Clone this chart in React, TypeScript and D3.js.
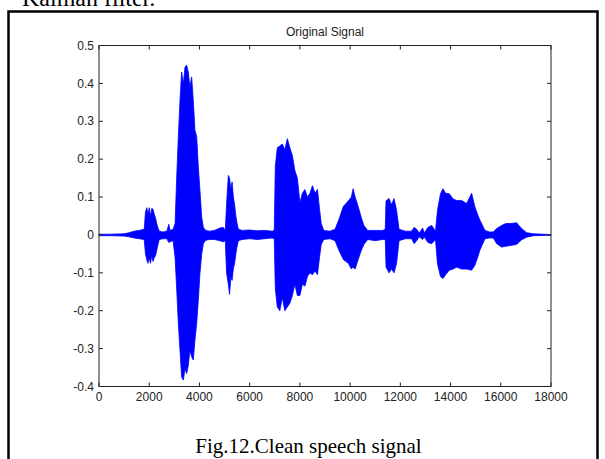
import React from "react";
import * as d3 from "d3";

// Envelope of the speech waveform: sample index, max and min amplitude
const samples = [
  0, 500, 1000, 1200, 1400, 1600, 1800, 1850, 1900, 1950, 2000, 2050, 2100, 2150, 2200, 2250, 2300, 2350, 2400, 2550, 2700, 2780, 2830, 2950,
  3030, 3090, 3160, 3225, 3290, 3360, 3425, 3490, 3555, 3620, 3690, 3755, 3820, 3890, 3955, 4020, 4090, 4155, 4250, 4400, 4600, 4800, 4950,
  5030, 5080, 5150, 5200, 5250, 5300, 5350, 5400, 5450, 5500, 5550, 5700, 6000, 6300, 6600, 6900, 6980,
  7020, 7100, 7200, 7300, 7400, 7500, 7600, 7700, 7800, 7900, 8000, 8100, 8200, 8300, 8400, 8500, 8600, 8700, 8780, 8850, 8950,
  9200, 9400, 9550, 9730, 9930, 10050, 10120, 10200, 10320, 10450, 10550, 10700, 11000, 11300, 11400,
  11430, 11550, 11650, 11750, 11850, 11950, 12200, 12450, 12550, 12650, 12750, 12890, 12950, 13100, 13250, 13400,
  13480, 13600, 13700, 13800, 13950, 14100, 14240, 14440, 14640, 14840, 14970, 15100, 15170, 15370, 15550, 15700,
  15840, 16030, 16200, 16370, 16630, 16830, 17030, 17300, 18000,
];
const upper = [
  0.002, 0.002, 0.003, 0.006, 0.01, 0.012, 0.015, 0.06, 0.072, 0.055, 0.072, 0.05, 0.07, 0.068, 0.055, 0.045, 0.03, 0.018, 0.01, 0.008, 0.01, 0.028, 0.012, 0.015,
  0.03, 0.144, 0.259, 0.355, 0.43, 0.4, 0.443, 0.448, 0.43, 0.39, 0.417, 0.355, 0.276, 0.26, 0.18, 0.118, 0.047, 0.02, 0.012, 0.01, 0.012, 0.018, 0.02,
  0.012, 0.08, 0.157, 0.15, 0.12, 0.14, 0.1, 0.08, 0.05, 0.03, 0.015, 0.012, 0.013, 0.011, 0.012, 0.01, 0.012,
  0.18, 0.23, 0.235, 0.24, 0.225, 0.254, 0.23, 0.21, 0.17, 0.15, 0.085, 0.11, 0.12, 0.1, 0.11, 0.13, 0.11, 0.12, 0.07, 0.03, 0.012,
  0.01, 0.015, 0.04, 0.075, 0.09, 0.1, 0.122, 0.1, 0.075, 0.045, 0.025, 0.012, 0.012, 0.012, 0.015,
  0.09, 0.096, 0.08, 0.096, 0.065, 0.015, 0.01, 0.01, 0.02, 0.015, 0.005, 0.018, 0.005, 0.02, 0.025, 0.01,
  0.065, 0.109, 0.122, 0.11, 0.109, 0.095, 0.091, 0.091, 0.083, 0.11, 0.074, 0.05, 0.039, 0.012, 0.008, 0.008,
  0.017, 0.025, 0.03, 0.03, 0.032, 0.017, 0.006, 0.003, 0.001,
];
const lower = [
  -0.002, -0.002, -0.003, -0.005, -0.008, -0.01, -0.012, -0.05, -0.065, -0.075, -0.06, -0.075, -0.055, -0.07, -0.06, -0.055, -0.04, -0.025, -0.012, -0.01, -0.01, -0.02, -0.018, -0.015,
  -0.06, -0.137, -0.234, -0.304, -0.375, -0.383, -0.353, -0.366, -0.345, -0.304, -0.322, -0.33, -0.278, -0.234, -0.172, -0.102, -0.05, -0.023, -0.014, -0.012, -0.012, -0.015, -0.018,
  -0.015, -0.1, -0.13, -0.157, -0.11, -0.12, -0.09, -0.075, -0.05, -0.03, -0.015, -0.012, -0.01, -0.012, -0.01, -0.008, -0.01,
  -0.14, -0.19, -0.2, -0.165, -0.2, -0.19, -0.18, -0.16, -0.13, -0.16, -0.16, -0.13, -0.135, -0.11, -0.1, -0.105, -0.095, -0.105, -0.06, -0.025, -0.012,
  -0.01, -0.015, -0.04, -0.065, -0.075, -0.09, -0.085, -0.09, -0.065, -0.04, -0.025, -0.012, -0.015, -0.012, -0.012,
  -0.085, -0.1, -0.09, -0.1, -0.075, -0.015, -0.01, -0.01, -0.023, -0.015, -0.005, -0.012, -0.005, -0.02, -0.023, -0.012,
  -0.076, -0.11, -0.115, -0.105, -0.093, -0.09, -0.085, -0.09, -0.09, -0.093, -0.08, -0.055, -0.04, -0.01, -0.008, -0.008,
  -0.023, -0.032, -0.03, -0.028, -0.025, -0.013, -0.006, -0.002, -0.001,
];

const xTicks = [0, 2000, 4000, 6000, 8000, 10000, 12000, 14000, 16000, 18000];
const yTicks = [-0.4, -0.3, -0.2, -0.1, 0, 0.1, 0.2, 0.3, 0.4, 0.5];

const W = 605;
const H = 459;
const left = 99;
const right = 551;
const top = 45.5;
const bottom = 386.5;

export default function App() {
  const x = d3.scaleLinear().domain([0, 18000]).range([left, right]);
  const y = d3.scaleLinear().domain([-0.4, 0.5]).range([bottom, top]);
  const pts = samples.map((s, i) => ({ s, u: upper[i], l: lower[i] }));
  const area = d3
    .area<{ s: number; u: number; l: number }>()
    .x((d) => x(d.s))
    .y0((d) => y(d.l))
    .y1((d) => y(d.u))
    .curve(d3.curveLinear);
  const tl = 4;
  const font = "'Liberation Sans', Arial, sans-serif";
  return (
    <svg
      width={W}
      height={H}
      style={{ position: "absolute", left: 0, top: 0, background: "#fff" }}
    >
      <text x={22} y={6} fontFamily="'Liberation Serif', 'Times New Roman', serif" fontSize={24} fill="#000">
        Kalman filter.
      </text>
      <rect x={8.5} y={11.5} width={589} height={470} fill="none" stroke="#000" strokeWidth={2.5} />
      <text x={(left + right) / 2} y={36} textAnchor="middle" fontFamily={font} fontSize={12} fill="#222">
        Original Signal
      </text>
      <path d={area(pts) || ""} fill="#0000ff" stroke="#0000ff" strokeWidth={0.8} />
      <rect x={left} y={top} width={right - left} height={bottom - top} fill="none" stroke="#222" strokeWidth={1} />
      {xTicks.map((t) => (
        <g key={"x" + t}>
          <line x1={x(t)} x2={x(t)} y1={bottom} y2={bottom - tl} stroke="#222" />
          <line x1={x(t)} x2={x(t)} y1={top} y2={top + tl} stroke="#222" />
          <text x={x(t)} y={401} textAnchor="middle" fontFamily={font} fontSize={12} fill="#222">
            {String(t)}
          </text>
        </g>
      ))}
      {yTicks.map((t) => (
        <g key={"y" + t}>
          <line x1={left} x2={left + tl} y1={y(t)} y2={y(t)} stroke="#222" />
          <line x1={right} x2={right - tl} y1={y(t)} y2={y(t)} stroke="#222" />
          <text x={94} y={y(t)} dy="0.35em" textAnchor="end" fontFamily={font} fontSize={12} fill="#222">
            {String(t)}
          </text>
        </g>
      ))}
      <text x={308.5} y={453} textAnchor="middle" fontFamily="'Liberation Serif', 'Times New Roman', serif" fontSize={21} fill="#000">
        Fig.12.Clean speech signal
      </text>
    </svg>
  );
}
